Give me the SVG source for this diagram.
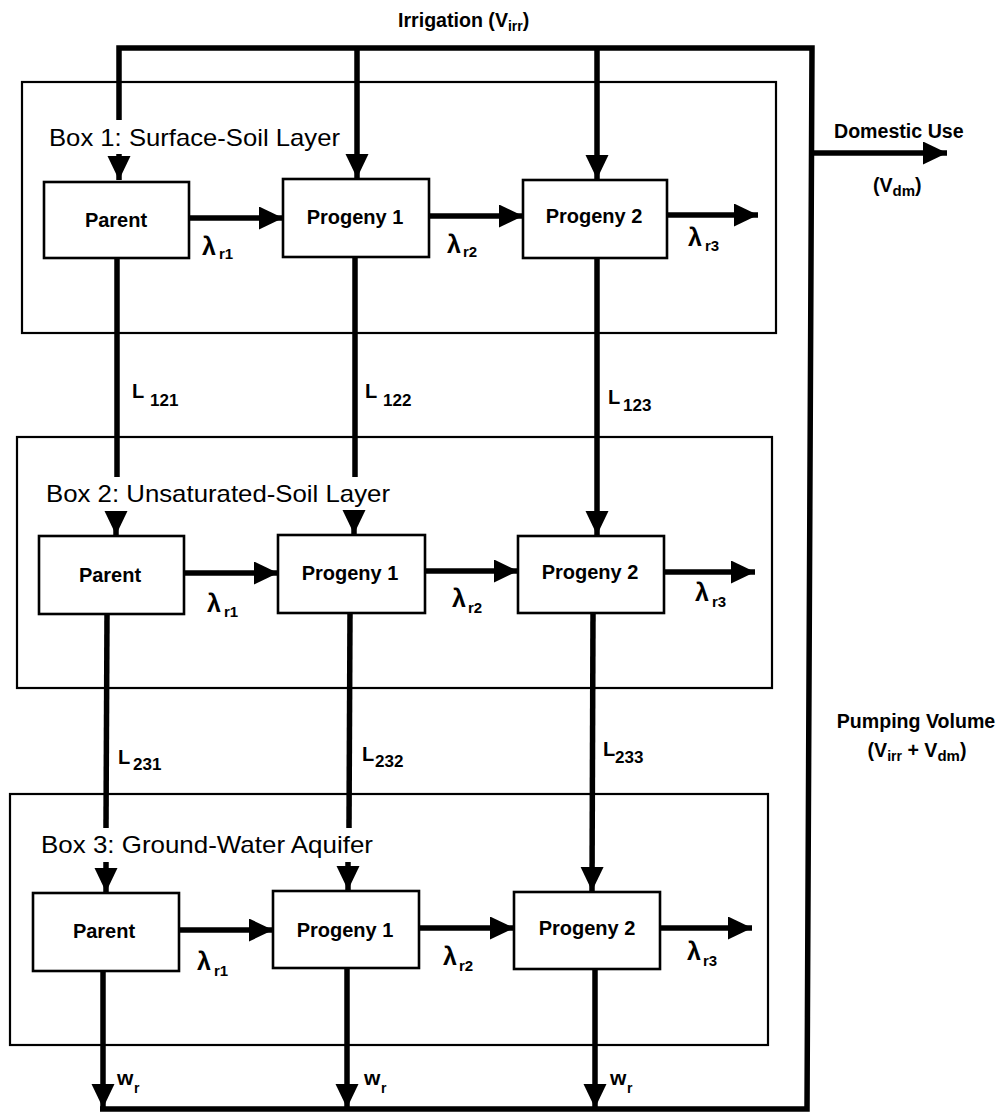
<svg xmlns="http://www.w3.org/2000/svg" width="1003" height="1112" viewBox="0 0 1003 1112">
<defs>
<style>
text{font-family:"Liberation Sans",Arial,Helvetica,sans-serif;fill:#000}
.lay{fill:none;stroke:#000;stroke-width:2.2}
.nd{fill:#fff;stroke:#000;stroke-width:2.6}
.nl{font-size:20px;font-weight:bold;text-anchor:middle}
.ttl{font-size:24px}
.cn{fill:none;stroke:#000;stroke-width:5.5}
.arr{marker-end:url(#ah)}
.lam{font-size:25px;font-weight:bold}
.sub{font-size:15px;font-weight:bold}
.lk{font-size:20px;font-weight:bold}
.lkn{font-size:17px}
.side{font-size:19.6px;font-weight:bold}
.w{font-size:21px;font-weight:bold}
.wr{font-size:14px}
</style>
<marker id="ah" markerUnits="userSpaceOnUse" markerWidth="25" markerHeight="24" refX="24" refY="11.5" orient="auto" viewBox="0 0 25 24">
<path d="M0,0 L24,11.5 L0,23 z" fill="#000"/>
</marker>
</defs>
<rect width="1003" height="1112" fill="#fff"/>

<g id="box1">
<rect class="lay" x="22" y="82" width="754" height="251"/>
<text class="ttl" x="49" y="146" textLength="291" lengthAdjust="spacingAndGlyphs">Box 1: Surface-Soil Layer</text>
</g>
<g id="box2">
<rect class="lay" x="17" y="437" width="755" height="251"/>
<text class="ttl" x="46" y="502" textLength="344" lengthAdjust="spacingAndGlyphs">Box 2: Unsaturated-Soil Layer</text>
</g>
<g id="box3">
<rect class="lay" x="10" y="794" width="758" height="251"/>
<text class="ttl" x="41" y="853" textLength="332" lengthAdjust="spacingAndGlyphs">Box 3: Ground-Water Aquifer</text>
</g>

<g id="connectors">
<path class="cn" d="M119,120 V48 H812 L807,1109 H100"/>
<line class="cn arr" x1="357" y1="48" x2="357" y2="178"/>
<line class="cn arr" x1="597" y1="48" x2="597" y2="179"/>
<line class="cn arr" x1="119" y1="154" x2="119" y2="180"/>
<line class="cn arr" x1="812" y1="153" x2="947" y2="153"/>

<line class="cn arr" x1="189" y1="218" x2="283" y2="218"/>
<line class="cn arr" x1="429" y1="216" x2="523" y2="216"/>
<line class="cn arr" x1="667" y1="215" x2="758" y2="215"/>

<line class="cn" x1="117" y1="258" x2="117" y2="477"/>
<line class="cn arr" x1="116" y1="511" x2="116" y2="535"/>
<line class="cn" x1="355" y1="257" x2="355" y2="477"/>
<line class="cn arr" x1="354" y1="511" x2="354" y2="534"/>
<line class="cn arr" x1="597" y1="258" x2="597" y2="535"/>

<line class="cn arr" x1="184" y1="573" x2="278" y2="573"/>
<line class="cn arr" x1="425" y1="571" x2="518" y2="571"/>
<line class="cn arr" x1="664" y1="572" x2="755" y2="572"/>

<line class="cn" x1="107" y1="614" x2="106" y2="828"/>
<line class="cn arr" x1="106" y1="862" x2="106" y2="892"/>
<line class="cn" x1="350" y1="613" x2="349" y2="828"/>
<line class="cn arr" x1="348" y1="862" x2="348" y2="890"/>
<line class="cn arr" x1="593" y1="613" x2="592" y2="891"/>

<line class="cn arr" x1="179" y1="930" x2="273" y2="930"/>
<line class="cn arr" x1="419" y1="928" x2="514" y2="928"/>
<line class="cn arr" x1="660" y1="928" x2="752" y2="928"/>

<line class="cn arr" x1="103" y1="971" x2="103" y2="1108"/>
<line class="cn arr" x1="347" y1="968" x2="347" y2="1108"/>
<line class="cn arr" x1="595" y1="969" x2="595" y2="1108"/>
</g>

<g id="b1-parent"><rect class="nd" x="44" y="182" width="145" height="76"/><text class="nl" x="116" y="227">Parent</text></g>
<g id="b1-progeny1"><rect class="nd" x="283" y="179" width="146" height="78"/><text class="nl" x="355" y="224">Progeny 1</text></g>
<g id="b1-progeny2"><rect class="nd" x="523" y="180" width="144" height="78"/><text class="nl" x="594" y="223">Progeny 2</text></g>

<g id="b2-parent"><rect class="nd" x="39" y="536" width="145" height="78"/><text class="nl" x="110" y="582">Parent</text></g>
<g id="b2-progeny1"><rect class="nd" x="278" y="535" width="147" height="78"/><text class="nl" x="350" y="580">Progeny 1</text></g>
<g id="b2-progeny2"><rect class="nd" x="518" y="536" width="146" height="77"/><text class="nl" x="590" y="579">Progeny 2</text></g>

<g id="b3-parent"><rect class="nd" x="33" y="893" width="146" height="78"/><text class="nl" x="104" y="938">Parent</text></g>
<g id="b3-progeny1"><rect class="nd" x="273" y="891" width="146" height="77"/><text class="nl" x="345" y="937">Progeny 1</text></g>
<g id="b3-progeny2"><rect class="nd" x="514" y="892" width="146" height="77"/><text class="nl" x="587" y="935">Progeny 2</text></g>

<g id="labels">
<text class="side" x="398" y="27">Irrigation (V<tspan font-size="14" dy="4">irr</tspan><tspan dy="-4">)</tspan></text>
<text class="side" x="834" y="138">Domestic Use</text>
<text class="side" x="873" y="192">(V<tspan font-size="15" dy="4">dm</tspan><tspan dy="-4">)</tspan></text>
<text class="side" x="916" y="728" text-anchor="middle">Pumping Volume</text>
<text class="side" x="917" y="757" text-anchor="middle">(V<tspan font-size="14" dy="4">irr</tspan><tspan dy="-4"> + V</tspan><tspan font-size="15" dy="4">dm</tspan><tspan dy="-4">)</tspan></text>

<text class="lam" x="202" y="255">λ<tspan class="sub" x="219" dy="4">r1</tspan></text>
<text class="lam" x="447" y="253">λ<tspan class="sub" x="463" dy="4">r2</tspan></text>
<text class="lam" x="688" y="246">λ<tspan class="sub" x="705" dy="5">r3</tspan></text>

<text class="lam" x="207" y="612">λ<tspan class="sub" x="224" dy="5">r1</tspan></text>
<text class="lam" x="452" y="607">λ<tspan class="sub" x="468" dy="6">r2</tspan></text>
<text class="lam" x="695" y="601">λ<tspan class="sub" x="712" dy="6">r3</tspan></text>

<text class="lam" x="197" y="970">λ<tspan class="sub" x="214" dy="6">r1</tspan></text>
<text class="lam" x="443" y="965">λ<tspan class="sub" x="459" dy="6">r2</tspan></text>
<text class="lam" x="687" y="960">λ<tspan class="sub" x="703" dy="6">r3</tspan></text>

<text class="lk" x="132" y="398">L<tspan class="lkn" x="150" y="406">121</tspan></text>
<text class="lk" x="365" y="398">L<tspan class="lkn" x="383" y="406">122</tspan></text>
<text class="lk" x="608" y="404">L<tspan class="lkn" x="623" y="411">123</tspan></text>
<text class="lk" x="118" y="764">L<tspan class="lkn" x="133" y="770">231</tspan></text>
<text class="lk" x="362" y="761">L<tspan class="lkn" x="375" y="767">232</tspan></text>
<text class="lk" x="603" y="756">L<tspan class="lkn" x="615" y="763">233</tspan></text>

<text class="w" x="117" y="1085">w<tspan class="wr" x="134" y="1093">r</tspan></text>
<text class="w" x="364" y="1085">w<tspan class="wr" x="381" y="1093">r</tspan></text>
<text class="w" x="610" y="1085">w<tspan class="wr" x="627" y="1093">r</tspan></text>
</g>
</svg>
